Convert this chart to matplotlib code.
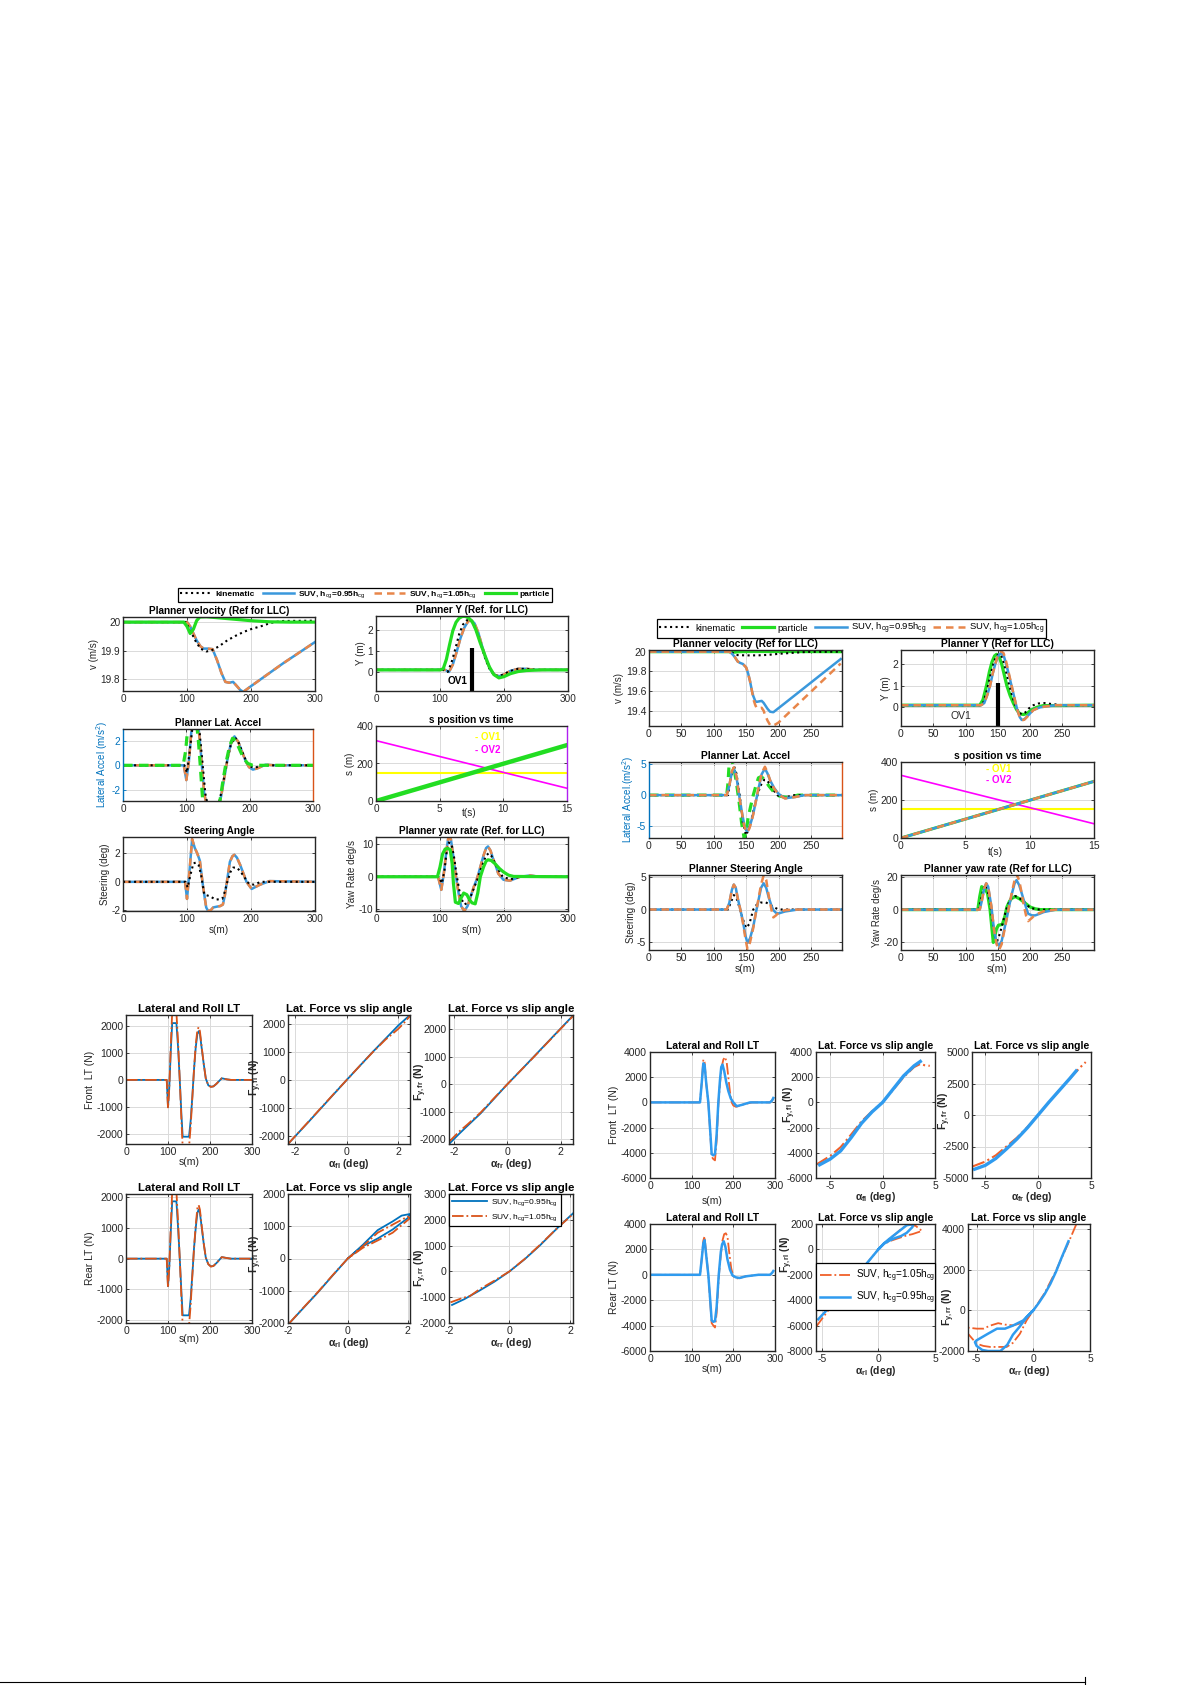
import matplotlib
matplotlib.use('Agg')
import matplotlib.pyplot as plt
from matplotlib.lines import Line2D

plt.rcParams['font.family'] = ['Liberation Sans', 'DejaVu Sans']
plt.rcParams['mathtext.fontset'] = 'custom'
plt.rcParams['mathtext.rm'] = 'Liberation Sans'
plt.rcParams['mathtext.it'] = 'Liberation Sans:italic'
plt.rcParams['mathtext.bf'] = 'Liberation Sans:bold'
plt.rcParams['axes.unicode_minus'] = False
plt.rcParams['axes.linewidth'] = 1.0

# ---------------- DATA ----------------
# ---- top-left block ----
tl_v_kin_s = [0, 98, 105, 113, 121, 130, 137, 150, 163, 176, 189, 202, 215, 228, 236, 250, 300]
tl_v_kin = [20.0, 20.0, 19.972, 19.935, 19.907, 19.897, 19.899, 19.915, 19.936, 19.952, 19.966, 19.977, 19.985, 19.995, 20.0, 20.004, 20.005]
tl_v_suv_s = [0, 100, 105, 110, 115, 121, 126, 132, 140, 147, 154, 160, 166, 172, 178, 183, 188, 194, 200, 250, 300]
tl_v_suv = [20.0, 20.0, 19.985, 19.96, 19.936, 19.915, 19.907, 19.907, 19.905, 19.866, 19.82, 19.79, 19.787, 19.79, 19.775, 19.762, 19.755, 19.765, 19.775, 19.855, 19.93]
tl_v_par_s = [0, 95, 100, 105, 110, 115, 120, 130, 150, 175, 200, 230, 260, 300]
tl_v_par = [20.0, 20.0, 19.985, 19.96, 19.975, 20.005, 20.018, 20.019, 20.015, 20.01, 20.005, 20.001, 20.0, 20.0]

tl_y_kin_s = [0, 105, 112, 118, 124, 130, 136, 142, 147, 152, 158, 165, 171, 178, 185, 192, 200, 210, 222, 235, 250, 300]
tl_y_kin = [0.1, 0.1, 0.0, 0.45, 1.1, 1.8, 2.25, 2.45, 2.45, 2.3, 1.85, 1.2, 0.6, 0.1, -0.15, -0.2, -0.1, 0.05, 0.15, 0.15, 0.1, 0.1]
tl_y_suv_s = [0, 108, 114, 120, 126, 132, 138, 144, 149, 154, 160, 166, 172, 179, 186, 193, 200, 210, 222, 235, 250, 300]
tl_y_suv = [0.1, 0.1, 0.0, 0.35, 0.95, 1.6, 2.1, 2.4, 2.45, 2.3, 1.85, 1.2, 0.6, 0.1, -0.15, -0.2, -0.12, 0.05, 0.15, 0.15, 0.1, 0.1]
tl_y_par_s = [0, 100, 105, 110, 115, 120, 125, 130, 135, 140, 145, 150, 156, 163, 170, 177, 184, 192, 200, 210, 222, 235, 260, 300]
tl_y_par = [0.1, 0.1, 0.15, 0.6, 1.3, 1.95, 2.35, 2.55, 2.63, 2.63, 2.55, 2.4, 2.0, 1.37, 0.8, 0.25, -0.12, -0.28, -0.22, -0.08, 0.02, 0.07, 0.1, 0.1]
ov1_s = [150, 150]
tl_ov1_y = [-0.9, 1.12]

tl_a_par_s = [0, 95, 99, 103, 108, 114, 119, 122, 126, 132, 140, 147, 153, 158, 163, 168, 173, 178, 184, 190, 197, 205, 215, 300]
tl_a_par = [0, 0, 1.2, 3.5, 5.0, 4.5, 2.0, 0, -3.0, -4.8, -5.0, -4.0, -2.9, -1.2, 0.3, 1.5, 2.2, 2.0, 1.3, 0.6, 0.15, 0, 0, 0]
tl_a_suv_s = [0, 96, 100, 104, 108, 113, 118, 123, 128, 134, 142, 150, 155, 160, 165, 170, 176, 182, 188, 194, 199, 205, 212, 225, 240, 300]
tl_a_suv = [0, 0, -1.2, 0.3, 2.8, 4.2, 3.8, 1.0, -2.2, -3.8, -4.2, -3.5, -2.5, -1.0, 0.5, 1.7, 2.35, 1.9, 1.1, 0.3, -0.15, -0.35, -0.25, 0.05, 0.0, 0]
tl_a_kin_s = [0, 97, 101, 105, 110, 115, 120, 125, 130, 136, 144, 151, 156, 161, 166, 171, 177, 183, 189, 195, 201, 208, 220, 300]
tl_a_kin = [0, 0, -0.6, 1.0, 3.2, 4.2, 3.2, 0.5, -2.3, -3.8, -4.0, -3.2, -2.0, -0.6, 0.8, 1.8, 2.25, 1.8, 1.0, 0.3, -0.1, -0.2, 0.0, 0]

tl_t = [0, 15]
tl_ego = [0, 298]
tl_ov1 = [150, 150]
tl_ov2 = [322, 68]

tl_d_suv_s = [0, 97, 100, 104, 108, 112, 116, 120, 125, 130, 133, 137, 141, 146, 152, 156, 159, 162, 167, 171, 174, 178, 183, 188, 193, 201, 214, 229, 300]
tl_d_suv = [0, 0, -1.2, 0.8, 3.0, 2.4, 2.0, 1.5, -0.3, -1.8, -2.05, -2.0, -1.8, -1.75, -1.7, -1.6, -1.0, -0.1, 1.4, 1.8, 1.9, 1.7, 1.2, 0.6, 0.0, -0.5, -0.2, 0.05, 0]
tl_d_kin_s = [0, 98, 101, 106, 110, 114, 118, 122, 127, 135, 145, 155, 159, 163, 168, 172, 178, 184, 190, 197, 205, 215, 300]
tl_d_kin = [0, 0, -0.4, 0.6, 1.3, 1.35, 1.2, 0.5, -0.9, -1.0, -1.25, -1.2, -0.7, 0.0, 0.7, 1.0, 1.0, 0.7, 0.3, -0.15, -0.2, 0, 0]

tl_r_suv_s = [0, 97, 102, 106, 110, 113, 117, 121, 125, 129, 133, 138, 143, 148, 153, 158, 163, 168, 172, 175, 179, 183, 187, 191, 199, 209, 225, 241, 255, 300]
tl_r_suv = [0, 0, -4, 1, 8, 12, 11.5, 6, 0, -5, -9, -10.5, -9, -6, -3, -0.5, 3, 6.5, 8.8, 9.3, 8, 5.5, 3.5, 1.0, -0.9, -1.2, 0, 0.4, 0, 0]
tl_r_kin_s = [0, 98, 103, 107, 110, 114, 118, 122, 126, 130, 134, 138, 143, 148, 153, 158, 163, 168, 172, 176, 180, 185, 190, 198, 210, 225, 300]
tl_r_kin = [0, 0, -2, 2, 7, 10.5, 10, 6, 0.5, -4, -7, -8.5, -8, -6, -3.5, -1, 2, 4.5, 6.5, 7.2, 6.5, 4.5, 2.5, 0, -0.8, 0, 0]
tl_r_par_s = [0, 96, 100, 104, 108, 112, 116, 119, 121, 124, 129, 133, 137, 142, 146, 150, 155, 159, 163, 168, 172, 175, 180, 186, 193, 199, 207, 215, 300]
tl_r_par = [0, 0, 3, 7, 8.5, 8.7, 8.3, 4, -2, -7.8, -8.2, -6.5, -5, -5.5, -7, -8, -8.3, -5, 0, 3, 4.8, 5.2, 5, 4, 2.5, 1.5, 0.5, 0.1, 0]

# ---- top-right block ----
tr_v_kin_s = [0, 125, 130, 135, 150, 170, 185, 200, 215, 230, 245, 298]
tr_v_kin = [20.0, 20.0, 19.985, 19.966, 19.962, 19.963, 19.968, 19.978, 19.985, 19.992, 19.998, 20.0]
tr_v_par_s = [0, 125, 132, 140, 160, 298]
tr_v_par = [20.0, 20.0, 19.995, 20.0, 20.002, 20.0]
tr_v_suv1_s = [0, 124, 128, 132, 137, 141, 145, 150, 153, 156, 159, 161, 164, 166, 170, 174, 177, 179, 183, 187, 192, 210, 230, 250, 268, 285, 296]
tr_v_suv1 = [20.0, 20.0, 19.98, 19.95, 19.9, 19.885, 19.875, 19.84, 19.78, 19.7, 19.6, 19.55, 19.5, 19.49, 19.495, 19.5, 19.48, 19.46, 19.42, 19.39, 19.385, 19.478, 19.582, 19.686, 19.78, 19.868, 19.925]
tr_v_suv2_s = [0, 124, 128, 132, 137, 141, 145, 150, 153, 156, 159, 161, 164, 166, 170, 174, 177, 179, 183, 187, 190, 195, 200, 220, 240, 260, 280, 296]
tr_v_suv2 = [20.0, 20.0, 19.98, 19.95, 19.9, 19.885, 19.875, 19.84, 19.78, 19.7, 19.6, 19.52, 19.46, 19.43, 19.425, 19.43, 19.4, 19.36, 19.3, 19.255, 19.245, 19.26, 19.28, 19.405, 19.53, 19.655, 19.78, 19.88]

tr_y_par_s = [0, 122, 127, 133, 137, 141, 145, 148, 152, 156, 160, 164, 169, 174, 179, 184, 190, 195, 202, 210, 220, 299]
tr_y_par = [0.1, 0.1, 0.35, 1.07, 1.65, 2.1, 2.38, 2.45, 2.35, 2.0, 1.5, 1.0, 0.55, 0.2, -0.1, -0.3, -0.33, -0.28, -0.12, 0.0, 0.08, 0.1]
tr_y_kin_s = [0, 123, 128, 134, 139, 144, 148, 152, 156, 160, 164, 168, 173, 178, 183, 187, 192, 198, 205, 213, 222, 235, 250, 299]
tr_y_kin = [0.1, 0.1, 0.25, 0.9, 1.55, 2.1, 2.38, 2.47, 2.35, 2.0, 1.5, 1.0, 0.45, 0.0, -0.25, -0.32, -0.25, -0.05, 0.1, 0.18, 0.2, 0.15, 0.1, 0.1]
tr_y_suv_s = [0, 124, 129, 134, 138, 142, 146, 150, 155, 159, 163, 168, 172, 176, 180, 184, 187, 191, 196, 205, 215, 226, 240, 299]
tr_y_suv1 = [0.1, 0.1, 0.2, 0.6, 1.0, 1.55, 2.0, 2.35, 2.52, 2.4, 2.0, 1.4, 0.9, 0.4, -0.1, -0.45, -0.58, -0.55, -0.4, -0.12, 0.0, 0.05, 0.1, 0.1]
tr_y_suv2 = [0.1, 0.1, 0.2, 0.6, 1.0, 1.55, 2.0, 2.4, 2.6, 2.5, 2.1, 1.45, 0.92, 0.4, -0.1, -0.45, -0.6, -0.57, -0.42, -0.13, 0.0, 0.05, 0.1, 0.1]
tr_ov1_y = [-0.86, 1.12]

tr_a_par_s = [0, 120, 122, 124, 127, 131, 135, 139, 143, 147, 150, 153, 157, 161, 165, 169, 173, 178, 185, 192, 200, 208, 216, 230, 298]
tr_a_par = [0, 0, 2.0, 5.5, 6.0, 4.5, 2.0, -1.0, -4.5, -7.0, -6.0, -3.7, -1.8, 0.0, 1.5, 2.8, 3.0, 2.6, 1.5, 0.6, -0.1, -0.3, -0.35, 0, 0]
tr_a_kin_s = [0, 122, 126, 131, 135, 140, 145, 150, 154, 158, 162, 166, 172, 178, 183, 188, 193, 198, 205, 212, 225, 298]
tr_a_kin = [0, 0, 2.5, 4.8, 3.5, 0.0, -4.5, -6.5, -5.5, -4.0, -2.2, -0.5, 1.5, 2.5, 2.3, 1.5, 0.7, 0.0, -0.3, -0.3, 0, 0]
tr_a_suv_s = [0, 120, 124, 128, 131, 135, 138, 143, 147, 150, 152, 155, 158, 161, 165, 169, 174, 179, 183, 187, 193, 200, 210, 226, 240, 298]
tr_a_suv1 = [0, 0, 1.5, 3.8, 4.3, 3.0, 0.8, -2.5, -4.8, -5.7, -5.8, -5.2, -4.2, -3.0, -1.0, 1.0, 3.4, 4.3, 3.5, 2.4, 1.2, 0.2, -0.5, -0.3, 0, 0]
tr_a_suv2 = [0, 0, 1.5, 3.9, 4.5, 3.1, 0.8, -2.6, -5.0, -5.9, -6.0, -5.4, -4.4, -3.1, -1.0, 1.1, 3.6, 4.6, 3.7, 2.4, 1.1, 0.1, -0.55, -0.3, 0, 0]

tr_t = [0, 15]
tr_ego = [0, 298]
tr_ov1 = [150, 150]
tr_ov2 = [330, 75]

tr_d_suv_s = [0, 120, 124, 128, 131, 134, 137, 141, 145, 149, 152, 156, 161, 165, 169, 173, 177, 181, 185, 189, 192, 196, 200, 210, 230, 298]
tr_d_suv1 = [0, 0, 1.0, 3.0, 3.8, 3.3, 1.7, 0.0, -1.8, -4.0, -5.1, -4.4, -2.6, -0.5, 1.4, 3.3, 4.0, 3.3, 1.8, 0.6, -0.1, -0.5, -0.6, -0.3, 0, 0]
tr_d_suv2 = [0, 0, 1.0, 3.0, 3.8, 3.3, 1.7, 0.0, -2.0, -4.5, -6.0, -5.0, -2.8, -0.5, 1.6, 3.8, 5.2, 4.5, 2.0, 0.0, -1.2, -0.9, -0.5, -0.1, 0, 0]
tr_d_kin_s = [0, 122, 126, 131, 135, 140, 145, 150, 155, 161, 166, 172, 180, 186, 192, 198, 205, 298]
tr_d_kin = [0, 0, 1.0, 2.2, 1.8, 0.2, -1.5, -2.8, -2.2, 0.0, 0.7, 1.05, 1.1, 0.8, 0.4, 0.1, 0, 0]

tr_r_par_s = [0, 119, 122, 125, 128, 131, 134, 138, 141, 143, 146, 148, 151, 157, 161, 164, 168, 171, 177, 184, 190, 200, 208, 216, 298]
tr_r_par = [0, 0, 8, 14, 13, 12, 10, 0, -12, -20, -15, -11.6, -9.5, -9, -4, 1.6, 5, 6.7, 8, 6.5, 4.7, 1.6, 0.5, 0, 0]
tr_r_kin_s = [0, 120, 124, 128, 131, 134, 138, 142, 146, 149, 152, 155, 159, 163, 168, 172, 176, 180, 185, 190, 200, 215, 298]
tr_r_kin = [0, 0, 6, 13, 15, 12, 4, -8, -17, -19, -16, -12, -6, 0, 5, 7.8, 8.2, 8, 6.5, 5, 1, 0, 0]
tr_r_suv_s = [0, 122, 125, 129, 132, 135, 140, 144, 148, 152, 156, 160, 164, 168, 172, 176, 179, 183, 187, 190, 194, 197, 203, 208, 215, 221, 240, 298]
tr_r_suv1 = [0, 0, 5, 13, 16, 14, 2, -12, -20, -22, -19, -12, -5, 3, 10, 16, 18, 15, 10, 6, 1, -2.5, -3.5, -3.5, -2.5, -1.5, 0, 0]
tr_r_suv2 = [0, 0, 5, 13, 16, 14, 2, -12, -21, -24.5, -21, -13, -5, 3, 11, 18, 21.5, 18, 10, 3, -4, -7, -5, -3, -2, -1, 0, 0]

# ---- bottom-left block ----
bl_s = [0, 97, 100, 103, 107, 110, 115, 120, 124, 128, 132, 135, 140, 145, 150, 154, 158, 162, 166, 170, 173, 176, 180, 185, 190, 196, 202, 208, 215, 228, 240, 250, 300]
bl_f1 = [0, 0, -1000, -300, 1200, 2100, 2100, 2100, 1200, 0, -1300, -2100, -2100, -2100, -2100, -1500, -600, 400, 1200, 1700, 1800, 1700, 1200, 600, 50, -200, -250, -240, -150, 60, 20, 0, 0]
bl_f2 = [0, 0, -1050, -300, 1400, 2500, 2600, 2500, 1400, 0, -1500, -2500, -2600, -2600, -2500, -1700, -650, 400, 1300, 1850, 1950, 1800, 1250, 600, 50, -200, -260, -240, -150, 60, 20, 0, 0]
bl_r1 = [0, 0, -900, -300, 1000, 1870, 1870, 1870, 1000, 0, -1100, -1850, -1850, -1850, -1850, -1300, -500, 350, 1000, 1500, 1600, 1500, 1050, 500, 30, -180, -250, -240, -150, 50, 20, 0, 0]
bl_r2 = [0, 0, -950, -300, 1200, 2200, 2300, 2200, 1200, 0, -1300, -2200, -2300, -2300, -2200, -1500, -550, 350, 1100, 1650, 1750, 1600, 1100, 500, 30, -180, -260, -240, -150, 50, 20, 0, 0]

bl_afl1 = [-2.27, -1.5, -1.0, -0.5, 0.0, 0.5, 1.0, 1.5, 2.0, 2.45]
bl_ffl1 = [-2300, -1530, -1020, -510, 0, 500, 1000, 1480, 1960, 2335]
bl_afl2 = [-2.27, -1.5, -1.0, -0.5, 0.0, 0.5, 1.0, 1.5, 1.8, 2.0, 2.2, 2.45]
bl_ffl2 = [-2300, -1520, -1010, -500, 0, 500, 990, 1450, 1680, 1840, 2030, 2300]
bl_afr1 = [-2.19, -1.8, -1.5, -1.0, -0.5, 0.0, 0.5, 1.0, 1.5, 2.0, 2.46]
bl_ffr1 = [-2180, -1800, -1520, -1060, -530, 0, 500, 1010, 1520, 2030, 2500]
bl_afr2 = [-2.19, -1.8, -1.5, -1.0, -0.5, 0.0, 0.5, 1.0, 1.5, 2.0, 2.46]
bl_ffr2 = [-2100, -1720, -1470, -1030, -510, 0, 500, 1000, 1510, 2020, 2480]
bl_arl1 = [-1.95, -1.5, -1.0, -0.5, 0.0, 0.5, 1.0, 1.5, 2.0, 2.08, 1.8, 1.5, 1.0, 0.5, 0.0]
bl_frl1 = [-2000, -1550, -1050, -520, 0, 380, 620, 900, 1250, 1380, 1330, 1150, 880, 420, 0]
bl_arl2 = [-1.95, -1.5, -1.0, -0.5, 0.0, 0.5, 1.0, 1.5, 2.08, 2.0, 1.5, 1.0, 0.5, 0.0]
bl_frl2 = [-2000, -1540, -1040, -510, 0, 330, 560, 800, 1250, 1300, 1050, 800, 380, 0]
bl_arr1 = [-1.9, -1.5, -1.0, -0.5, 0.0, 0.5, 1.0, 1.6, 2.1]
bl_frr1 = [-1300, -1080, -750, -400, 0, 470, 1000, 1700, 2250]
bl_arr2 = [-1.95, -1.6, -1.3, -1.0, -0.5, 0.0, 0.5, 1.0, 1.6, 2.1]
bl_frr2 = [-1200, -1050, -950, -700, -360, 0, 480, 1020, 1700, 2220]

# ---- bottom-right block ----
br_f_s1 = [0, 120, 124, 128, 131, 135, 140, 145, 148, 152, 156, 160, 164, 168, 171, 174, 178, 183, 188, 194, 200, 208, 220, 240, 288, 293, 296]
br_f1 = [0, 0, 1500, 3100, 3000, 1500, 0, -2500, -4100, -4200, -4100, -2500, 0, 1800, 2800, 3000, 2500, 1600, 900, 300, 0, -300, -200, 0, 0, 150, 350]
br_f_s2 = [0, 120, 124, 128, 131, 135, 140, 145, 148, 152, 156, 160, 164, 168, 172, 176, 180, 184, 188, 192, 196, 200, 206, 212, 225, 245, 288, 293, 296]
br_f2 = [0, 0, 1500, 3400, 3200, 1500, 0, -2700, -4300, -4500, -4600, -3000, -200, 1500, 2800, 3400, 3600, 3200, 2000, 800, 0, -250, -350, -300, -150, 0, 0, 150, 350]
br_r_s1 = [0, 120, 124, 128, 131, 135, 140, 145, 148, 152, 156, 160, 165, 170, 173, 177, 181, 186, 192, 198, 206, 215, 230, 260, 288, 293, 296]
br_r1 = [0, 0, 1200, 2500, 2720, 1500, 0, -2200, -3600, -3700, -3650, -2500, 0, 1800, 2400, 2640, 2200, 1200, 400, -50, -200, -250, -120, 0, 0, 150, 300]
br_r_s2 = [0, 120, 124, 128, 131, 135, 140, 145, 148, 152, 156, 160, 165, 170, 174, 178, 182, 186, 190, 195, 200, 206, 215, 230, 260, 288, 293, 296]
br_r2 = [0, 0, 1200, 2700, 3030, 1600, 0, -2400, -3800, -4000, -4150, -3000, -200, 1600, 2700, 3200, 3270, 3000, 1800, 500, -100, -300, -250, -120, 0, 0, 150, 300]

br_afl1 = [-6.0, -5.0, -4.0, -3.0, -2.0, -1.0, 0.0, 1.0, 2.0, 3.0, 3.6]
br_ffl1 = [-4950, -4500, -3850, -2800, -1650, -750, 0, 1050, 2100, 2900, 3250]
br_afl2 = [-6.35, -5.0, -4.0, -3.0, -2.0, -1.0, 0.0, 1.0, 2.0, 3.0, 3.6, 4.0, 4.5]
br_ffl2 = [-4950, -4250, -3550, -2550, -1500, -700, 0, 1000, 2000, 2800, 3050, 2950, 2900]
br_afr1 = [-6.0, -5.0, -4.0, -3.0, -2.0, -1.0, 0.0, 1.0, 2.0, 3.0, 3.6]
br_ffr1 = [-4300, -4000, -3450, -2700, -1900, -1000, 0, 1000, 1950, 2900, 3500]
br_afr2 = [-6.25, -5.0, -4.0, -3.0, -2.0, -1.0, 0.0, 1.0, 2.0, 3.0, 4.0, 4.5]
br_ffr2 = [-4100, -3700, -3200, -2500, -1800, -950, 0, 1000, 1950, 2900, 3800, 4200]
br_arl1 = [-5.3, -4.0, -3.0, -2.0, -1.0, 0.0, 0.5, 1.0, 1.5, 2.0, 2.5, 3.0, 3.1, 2.5, 2.0, 1.5, 1.0, 0.5, 0.0]
br_frl1 = [-5500, -4250, -3200, -2150, -1080, 0, 450, 700, 900, 1050, 1300, 1750, 2000, 1900, 1550, 1200, 850, 480, 0]
br_arl2 = [-5.5, -4.0, -3.0, -2.0, -1.0, 0.0, 0.5, 1.0, 1.5, 2.0, 2.5, 3.0, 3.5, 3.85, 3.3, 2.6, 2.0, 1.5, 1.0, 0.5, 0.0]
br_frl2 = [-6100, -4300, -3200, -2150, -1080, 0, 420, 650, 800, 950, 1100, 1200, 1350, 1450, 1850, 1950, 1600, 1200, 850, 450, 0]
br_arr1 = [3.1, 2.5, 2.0, 1.5, 1.0, 0.5, 0.0, -0.9, -1.8, -2.5, -3.2, -4.0, -5.0, -5.15, -5.0, -4.5, -4.0, -3.5, -2.9, -2.3, -1.8, -1.2, -0.6, 0.0]
br_frr1 = [3400, 2600, 1900, 1300, 800, 380, 0, -500, -750, -900, -900, -1150, -1475, -1560, -1750, -1950, -2000, -2000, -2000, -1700, -1200, -800, -350, 0]
br_arr2 = [3.8, 3.0, 2.0, 1.0, 0.0, -0.74, -1.2, -1.77, -2.5, -3.1, -3.8, -4.4, -5.0, -5.76, -5.76, -5.0, -4.4, -3.8, -3.0, -2.35, -1.8, -1.18, -0.6, 0.0]
br_frr2 = [4250, 3200, 1950, 850, 0, -490, -650, -740, -700, -630, -750, -900, -900, -850, -1150, -1640, -1750, -1800, -1800, -1800, -1600, -1150, -500, 0]

# tick values
s_ticks_300 = [0, 100, 200, 300]
s_ticks_250 = [0, 50, 100, 150, 200, 250]
t_ticks = [0, 5, 10, 15]

lab_kin = 'kinematic'
lab_par = 'particle'
lab_suv1 = r'SUV, h$_{\mathrm{cg}}$=0.95h$_{\mathrm{cg}}$'
lab_suv2 = r'SUV, h$_{\mathrm{cg}}$=1.05h$_{\mathrm{cg}}$'

# ---------------- STYLE ----------------
K = 'black'
GREEN = '#22DD22'
BLUE_T = '#3A98DC'
ORANGE_T = '#E8864A'
BLUE_BL = '#0072BD'
ORANGE_BL = '#D95319'
BLUE_BR = '#2F9BEF'
ORANGE_BR = '#F0602A'
MAT_BLUE = '#0072BD'
MAT_ORANGE = '#D95319'
TXT = '#262626'

W, H = 1192, 1685
fig = plt.figure(figsize=(W / 100, H / 100), dpi=100)
fig.patch.set_facecolor('white')


def mkax(rect):
    l, t, r, b = rect
    return fig.add_axes([l / W, 1 - b / H, (r - l) / W, (b - t) / H])


def fmt(v):
    return ('%g' % v)


def style(ax, xlim, ylim, xt, yt, title, tfs, lfs, xlabel=None, ylabel=None,
          xlpad=1.0, ylfs=7.0, xlfs=7.2, bold_labels=False, tpad=2.5, ylcoords=None):
    ax.set_xlim(xlim)
    ax.set_ylim(ylim)
    ax.set_xticks(xt)
    ax.set_xticklabels([fmt(v) for v in xt])
    ax.set_yticks(yt)
    ax.set_yticklabels([fmt(v) for v in yt])
    ax.grid(True, color='#DADADA', lw=0.7)
    ax.set_axisbelow(True)
    ax.tick_params(direction='in', length=2.5, width=0.6, labelsize=lfs, pad=2,
                   top=True, right=True, colors=TXT)
    for sp in ax.spines.values():
        sp.set_color('#262626')
        sp.set_linewidth(1.0)
    if title:
        ax.set_title(title, fontsize=tfs, fontweight='bold', pad=tpad, color='black')
    w = 'bold' if bold_labels else 'normal'
    if xlabel:
        ax.set_xlabel(xlabel, fontsize=xlfs, labelpad=xlpad, color=TXT, fontweight=w)
    if ylabel:
        ax.set_ylabel(ylabel, fontsize=ylfs, labelpad=1.0, color=TXT, fontweight=w)
        if ylcoords is not None:
            ax.yaxis.set_label_coords(ylcoords[0], ylcoords[1])


def yyaxis_style(ax):
    ax.spines['left'].set_color(MAT_BLUE)
    ax.spines['right'].set_color(MAT_ORANGE)
    ax.tick_params(axis='y', colors=MAT_BLUE)
    ax.yaxis.label.set_color(MAT_BLUE)


# ================= TOP-LEFT =================
lw_k, lw_s, lw_g = 1.5, 1.8, 2.3
ax = mkax((123, 617, 315, 691))
ax.plot(tl_v_suv_s, tl_v_suv, color=BLUE_T, lw=lw_s)
ax.plot(tl_v_suv_s, tl_v_suv, color=ORANGE_T, lw=lw_s, ls=(0, (3, 2)))
ax.plot(tl_v_kin_s, tl_v_kin, color=K, lw=lw_k, ls=':')
ax.plot(tl_v_par_s, tl_v_par, color=GREEN, lw=lw_g)
style(ax, (0, 300), (19.758, 20.018), s_ticks_300, [19.8, 19.9, 20.0],
      'Planner velocity (Ref for LLC)', 7.2, 7.2, ylabel='v (m/s)')

ax = mkax((376, 616, 568, 691))
ax.plot(tl_y_suv_s, tl_y_suv, color=BLUE_T, lw=lw_s)
ax.plot(tl_y_suv_s, tl_y_suv, color=ORANGE_T, lw=lw_s, ls=(0, (3, 2)))
ax.plot(tl_y_kin_s, tl_y_kin, color=K, lw=lw_k, ls=':')
ax.plot(tl_y_par_s, tl_y_par, color=GREEN, lw=lw_g)
ax.plot(ov1_s, tl_ov1_y, color=K, lw=3.0, solid_capstyle='butt')
ax.text(128, -0.45, 'OV1', fontsize=7.2, fontweight='bold', ha='center', va='center')
style(ax, (0, 300), (-0.9, 2.65), s_ticks_300, [0, 1, 2],
      'Planner Y (Ref. for LLC)', 7.2, 7.2, ylabel='Y (m)')

ax = mkax((123, 729, 313, 801))
ax.plot(tl_a_suv_s, tl_a_suv, color=BLUE_T, lw=lw_s)
ax.plot(tl_a_suv_s, tl_a_suv, color=ORANGE_T, lw=lw_s, ls=(0, (3, 2)))
ax.plot(tl_a_kin_s, tl_a_kin, color=K, lw=lw_k, ls=':')
ax.plot(tl_a_par_s, tl_a_par, color=GREEN, lw=lw_g, ls=(0, (3, 2)))
style(ax, (0, 300), (-2.9, 2.95), s_ticks_300, [-2, 0, 2],
      'Planner Lat. Accel', 7.2, 7.2, ylabel='Lateral Accel (m/s$^2$)')
ax.tick_params(right=False)
yyaxis_style(ax)

ax = mkax((376, 726, 567, 801))
ax.plot(tl_t, tl_ov1, color='#FFFF00', lw=1.5)
ax.plot(tl_t, tl_ov2, color='#FF00FF', lw=1.2)
ax.plot(tl_t, tl_ego, color=GREEN, lw=3.2)
style(ax, (0, 15), (0, 400), t_ticks, [0, 200, 400],
      's position vs time', 7.2, 7.2, ylabel='s (m)')
ax.spines['right'].set_color('#B020F0')
ax.text(0.49, -0.16, 't(s)', transform=ax.transAxes, fontsize=7.2, ha='center', va='center', color=TXT)
ax.text(7.8, 340, '- OV1', fontsize=7, fontweight='bold', color='#FFFF00', va='center')
ax.text(7.8, 272, '- OV2', fontsize=7, fontweight='bold', color='#FF00FF', va='center')

ax = mkax((123, 837, 315, 911))
ax.plot(tl_d_suv_s, tl_d_suv, color=BLUE_T, lw=lw_s)
ax.plot(tl_d_suv_s, tl_d_suv, color=ORANGE_T, lw=lw_s, ls=(0, (3, 2)))
ax.plot(tl_d_kin_s, tl_d_kin, color=K, lw=lw_k, ls=':')
style(ax, (0, 300), (-2.05, 3.15), s_ticks_300, [-2, 0, 2],
      'Steering Angle', 7.2, 7.2, xlabel='s(m)', ylabel='Steering (deg)')

ax = mkax((376, 837, 568, 911))
ax.plot(tl_r_suv_s, tl_r_suv, color=BLUE_T, lw=lw_s)
ax.plot(tl_r_suv_s, tl_r_suv, color=ORANGE_T, lw=lw_s, ls=(0, (3, 2)))
ax.plot(tl_r_kin_s, tl_r_kin, color=K, lw=lw_k, ls=':')
ax.plot(tl_r_par_s, tl_r_par, color=GREEN, lw=lw_g)
style(ax, (0, 300), (-10.5, 12.2), s_ticks_300, [-10, 0, 10],
      'Planner yaw rate (Ref. for LLC)', 7.2, 7.2, xlabel='s(m)', ylabel='Yaw Rate deg/s')

h_tl = [Line2D([], [], color=K, lw=1.5, ls=':'),
        Line2D([], [], color=BLUE_T, lw=1.8),
        Line2D([], [], color=ORANGE_T, lw=1.8, ls=(0, (3, 2))),
        Line2D([], [], color=GREEN, lw=2.3)]
leg = fig.legend(h_tl, [lab_kin, lab_suv1, lab_suv2, lab_par], loc='center',
                 bbox_to_anchor=(365 / W, 1 - 595 / H),
                 ncol=4, prop={'size': 6.0, 'weight': 'bold'}, frameon=True, fancybox=False,
                 edgecolor='black', handlelength=3.8, borderpad=0.25, handletextpad=0.4,
                 columnspacing=1.0, framealpha=1)
leg.get_frame().set_linewidth(0.9)

# ================= TOP-RIGHT =================
ax = mkax((649, 650, 842, 726))
ax.plot(tr_v_par_s, tr_v_par, color=GREEN, lw=lw_g)
ax.plot(tr_v_kin_s, tr_v_kin, color=K, lw=lw_k, ls=':')
ax.plot(tr_v_suv1_s, tr_v_suv1, color=BLUE_T, lw=lw_s)
ax.plot(tr_v_suv2_s, tr_v_suv2, color=ORANGE_T, lw=lw_s, ls=(0, (3, 2)))
style(ax, (0, 298), (19.245, 20.017), s_ticks_250, [19.4, 19.6, 19.8, 20.0],
      'Planner velocity (Ref for LLC)', 7.4, 7.5, ylabel='v (m/s)', tpad=2.0)

ax = mkax((901, 650, 1094, 726))
ax.plot(tr_y_par_s, tr_y_par, color=GREEN, lw=lw_g)
ax.plot(tr_y_kin_s, tr_y_kin, color=K, lw=lw_k, ls=':')
ax.plot(tr_y_suv_s, tr_y_suv1, color=BLUE_T, lw=lw_s)
ax.plot(tr_y_suv_s, tr_y_suv2, color=ORANGE_T, lw=lw_s, ls=(0, (3, 2)))
ax.plot(ov1_s, tr_ov1_y, color=K, lw=3.0, solid_capstyle='butt')
ax.text(93, -0.38, 'OV1', fontsize=7.5, ha='center', va='center', color=TXT)
style(ax, (0, 299), (-0.86, 2.65), s_ticks_250, [0, 1, 2],
      'Planner Y (Ref for LLC)', 7.4, 7.5, ylabel='Y (m)', tpad=2.0)

ax = mkax((649, 762, 842, 838))
ax.plot(tr_a_par_s, tr_a_par, color=GREEN, lw=lw_g, ls=(0, (3, 2)))
ax.plot(tr_a_kin_s, tr_a_kin, color=K, lw=lw_k, ls=':')
ax.plot(tr_a_suv_s, tr_a_suv1, color=BLUE_T, lw=lw_s)
ax.plot(tr_a_suv_s, tr_a_suv2, color=ORANGE_T, lw=lw_s, ls=(0, (3, 2)))
style(ax, (0, 298), (-6.95, 5.37), s_ticks_250, [-5, 0, 5],
      'Planner Lat. Accel', 7.4, 7.5, ylabel='Lateral Accel.(m/s$^2$)')
ax.tick_params(right=False)
yyaxis_style(ax)

ax = mkax((901, 762, 1094, 838))
ax.plot(tr_t, tr_ov1, color='#FFFF00', lw=1.5)
ax.plot(tr_t, tr_ov2, color='#FF00FF', lw=1.2)
ax.plot(tr_t, tr_ego, color=GREEN, lw=2.2)
ax.plot(tr_t, tr_ego, color=BLUE_T, lw=1.8)
ax.plot(tr_t, tr_ego, color=ORANGE_T, lw=1.8, ls=(0, (3, 2)))
style(ax, (0, 15), (0, 400), t_ticks, [0, 200, 400],
      's position vs time', 7.4, 7.5, ylabel='s (m)')
ax.text(0.49, -0.18, 't(s)', transform=ax.transAxes, fontsize=7.5, ha='center', va='center', color=TXT)
ax.text(6.6, 362, '- OV1', fontsize=7, fontweight='bold', color='#FFFF00', va='center')
ax.text(6.6, 305, '- OV2', fontsize=7, fontweight='bold', color='#FF00FF', va='center')

ax = mkax((649, 875, 842, 950))
ax.plot(tr_d_kin_s, tr_d_kin, color=K, lw=lw_k, ls=':')
ax.plot(tr_d_suv_s, tr_d_suv1, color=BLUE_T, lw=lw_s)
ax.plot(tr_d_suv_s, tr_d_suv2, color=ORANGE_T, lw=lw_s, ls=(0, (3, 2)))
style(ax, (0, 298), (-6.17, 5.26), s_ticks_250, [-5, 0, 5],
      'Planner Steering Angle', 7.4, 7.5, xlabel='s(m)', ylabel='Steering (deg)', xlfs=7.5)

ax = mkax((901, 875, 1094, 950))
ax.plot(tr_r_par_s, tr_r_par, color=GREEN, lw=lw_g)
ax.plot(tr_r_kin_s, tr_r_kin, color=K, lw=lw_k, ls=':')
ax.plot(tr_r_suv_s, tr_r_suv1, color=BLUE_T, lw=lw_s)
ax.plot(tr_r_suv_s, tr_r_suv2, color=ORANGE_T, lw=lw_s, ls=(0, (3, 2)))
style(ax, (0, 299), (-24.6, 21.1), s_ticks_250, [-20, 0, 20],
      'Planner yaw rate (Ref for LLC)', 7.4, 7.5, xlabel='s(m)', ylabel='Yaw Rate deg/s', xlfs=7.5)

h_tr = [Line2D([], [], color=K, lw=1.5, ls=':'),
        Line2D([], [], color=GREEN, lw=2.3),
        Line2D([], [], color=BLUE_T, lw=1.8),
        Line2D([], [], color=ORANGE_T, lw=1.8, ls=(0, (3, 2)))]
leg = fig.legend(h_tr, [lab_kin, lab_par, lab_suv1, lab_suv2], loc='center',
                 bbox_to_anchor=(851.5 / W, 1 - 628.5 / H),
                 ncol=4, prop={'size': 6.8}, frameon=True, fancybox=False,
                 edgecolor='black', handlelength=3.4, borderpad=0.25, handletextpad=0.4,
                 columnspacing=0.7, framealpha=1)
leg.get_frame().set_linewidth(0.9)

# ================= BOTTOM-LEFT =================
lb = 1.3
lt_ticks = [-2000, -1000, 0, 1000, 2000]
ax = mkax((126, 1015, 252, 1144))
ax.plot(bl_s, bl_f1, color=BLUE_BL, lw=lb)
ax.plot(bl_s, bl_f2, color=ORANGE_BL, lw=lb, ls='-.')
style(ax, (0, 300), (-2370, 2400), s_ticks_300, lt_ticks, 'Lateral and Roll LT', 8.2, 7.6,
      xlabel='s(m)', ylabel='Front  LT (N)', xlfs=7.6, ylfs=7.4, xlpad=0.5)

ax = mkax((288, 1015, 410, 1144))
ax.plot(bl_afl1, bl_ffl1, color=BLUE_BL, lw=lb)
ax.plot(bl_afl2, bl_ffl2, color=ORANGE_BL, lw=lb, ls='-.')
style(ax, (-2.27, 2.45), (-2300, 2335), [-2, 0, 2], lt_ticks, 'Lat. Force vs slip angle', 8.2, 7.6,
      xlabel=r'$\mathbf{\alpha_{fl}}$ (deg)', ylabel=r'$\mathbf{F_{y,fl}}$ (N)', xlfs=7.6, ylfs=7.6,
      xlpad=0.5, bold_labels=True, ylcoords=(-0.197, 0.52))

ax = mkax((449, 1015, 573, 1144))
ax.plot(bl_afr1, bl_ffr1, color=BLUE_BL, lw=lb)
ax.plot(bl_afr2, bl_ffr2, color=ORANGE_BL, lw=lb, ls='-.')
style(ax, (-2.19, 2.46), (-2180, 2520), [-2, 0, 2], lt_ticks, 'Lat. Force vs slip angle', 8.2, 7.6,
      xlabel=r'$\mathbf{\alpha_{fr}}$ (deg)', ylabel=r'$\mathbf{F_{y,fr}}$ (N)', xlfs=7.6, ylfs=7.6,
      xlpad=0.5, bold_labels=True, ylcoords=(-0.16, 0.48))

ax = mkax((126, 1194, 252, 1323))
ax.plot(bl_s, bl_r1, color=BLUE_BL, lw=lb)
ax.plot(bl_s, bl_r2, color=ORANGE_BL, lw=lb, ls='-.')
style(ax, (0, 300), (-2100, 2110), s_ticks_300, lt_ticks, 'Lateral and Roll LT', 8.2, 7.6,
      xlabel='s(m)', ylabel='Rear LT (N)', xlfs=7.6, ylfs=7.4, xlpad=-1.0)

ax = mkax((288, 1194, 410, 1323))
ax.plot(bl_arl1, bl_frl1, color=BLUE_BL, lw=lb)
ax.plot(bl_arl2, bl_frl2, color=ORANGE_BL, lw=lb, ls='-.')
style(ax, (-2.0, 2.08), (-2000, 2000), [-2, 0, 2], [-2000, -1000, 0, 1000, 2000],
      'Lat. Force vs slip angle', 8.2, 7.6,
      xlabel=r'$\mathbf{\alpha_{rl}}$ (deg)', ylabel=r'$\mathbf{F_{y,rl}}$ (N)', xlfs=7.6, ylfs=7.6,
      xlpad=0.5, bold_labels=True, ylcoords=(-0.197, 0.535))

ax = mkax((449, 1194, 573, 1323))
ax.plot(bl_arr1, bl_frr1, color=BLUE_BL, lw=lb, label=lab_suv1)
ax.plot(bl_arr2, bl_frr2, color=ORANGE_BL, lw=lb, ls='-.', label=lab_suv2)
style(ax, (-1.98, 2.1), (-2000, 3000), [-2, 0, 2], [-2000, -1000, 0, 1000, 2000, 3000],
      'Lat. Force vs slip angle', 8.2, 7.6,
      xlabel=r'$\mathbf{\alpha_{rr}}$ (deg)', ylabel=r'$\mathbf{F_{y,rr}}$ (N)', xlfs=7.6, ylfs=7.6,
      xlpad=0.5, bold_labels=True, ylcoords=(-0.16, 0.43))
leg = ax.legend(loc='upper left', bbox_to_anchor=(0, 1), borderaxespad=0, fontsize=6.0,
                handlelength=4.2, frameon=True, fancybox=False, edgecolor='black',
                borderpad=0.35, labelspacing=0.5, handletextpad=0.5, framealpha=1)
leg.get_frame().set_linewidth(0.9)

# ================= BOTTOM-RIGHT =================
lbr = 1.8
br_lt_ticks = [-6000, -4000, -2000, 0, 2000, 4000]
ax = mkax((650, 1052, 775, 1178))
ax.plot(br_f_s2, br_f2, color=ORANGE_BR, lw=1.3, ls='-.')
ax.plot(br_f_s1, br_f1, color=BLUE_BR, lw=lbr)
style(ax, (0, 300), (-6000, 4000), s_ticks_300, br_lt_ticks, 'Lateral and Roll LT', 7.5, 7.5,
      xlabel='s(m)', ylabel='Front  LT (N)', xlfs=7.5, ylfs=7.5, xlpad=3.5, tpad=2.0)

ax = mkax((816, 1052, 935, 1178))
ax.plot(br_afl2, br_ffl2, color=ORANGE_BR, lw=1.5, ls='-.')
ax.plot(br_afl1, br_ffl1, color=BLUE_BR, lw=2.4)
style(ax, (-6.35, 5.0), (-6000, 4000), [-5, 0, 5], br_lt_ticks, 'Lat. Force vs slip angle', 7.5, 7.5,
      xlabel=r'$\mathbf{\alpha_{fl}}$ (deg)', ylabel=r'$\mathbf{F_{y,fl}}$ (N)', xlfs=7.5, ylfs=7.5,
      xlpad=-0.5, bold_labels=True, tpad=2.0, ylcoords=(-0.153, 0.58))

ax = mkax((972, 1052, 1091, 1178))
ax.plot(br_afr2, br_ffr2, color=ORANGE_BR, lw=1.5, ls='-.')
ax.plot(br_afr1, br_ffr1, color=BLUE_BR, lw=2.4)
style(ax, (-6.25, 5.0), (-5000, 5000), [-5, 0, 5], [-5000, -2500, 0, 2500, 5000],
      'Lat. Force vs slip angle', 7.5, 7.5,
      xlabel=r'$\mathbf{\alpha_{fr}}$ (deg)', ylabel=r'$\mathbf{F_{y,fr}}$ (N)', xlfs=7.5, ylfs=7.5,
      xlpad=-0.5, bold_labels=True, tpad=2.0, ylcoords=(-0.162, 0.53))

ax = mkax((650, 1224, 775, 1351))
ax.plot(br_r_s2, br_r2, color=ORANGE_BR, lw=1.3, ls='-.')
ax.plot(br_r_s1, br_r1, color=BLUE_BR, lw=lbr)
style(ax, (0, 300), (-6000, 4000), s_ticks_300, br_lt_ticks, 'Lateral and Roll LT', 7.5, 7.5,
      xlabel='s(m)', ylabel='Rear LT (N)', xlfs=7.5, ylfs=7.5, xlpad=0.0, tpad=2.0)

ax = mkax((816, 1224, 935, 1351))
ax.plot(br_arl2, br_frl2, color=ORANGE_BR, lw=1.3, ls='-.', label=lab_suv2)
ax.plot(br_arl1, br_frl1, color=BLUE_BR, lw=lbr, label=lab_suv1)
style(ax, (-5.5, 5.0), (-8000, 2000), [-5, 0, 5], [-8000, -6000, -4000, -2000, 0, 2000],
      'Lat. Force vs slip angle', 7.5, 7.5,
      xlabel=r'$\mathbf{\alpha_{rl}}$ (deg)', ylabel=r'$\mathbf{F_{y,rl}}$ (N)', xlfs=7.5, ylfs=7.5,
      xlpad=0.5, bold_labels=True, tpad=2.0, ylcoords=(-0.176, 0.76))
leg = ax.legend(loc='center', bbox_to_anchor=(0, 0.368, 1, 0.275), mode='expand',
                fontsize=7.2, handlelength=3.0, frameon=True, fancybox=False, edgecolor='black',
                borderpad=0.4, labelspacing=0.6, handletextpad=0.6, framealpha=1, borderaxespad=0)
leg.get_frame().set_linewidth(0.9)

ax = mkax((968, 1224, 1090, 1351))
ax.plot(br_arr2, br_frr2, color=ORANGE_BR, lw=1.3, ls='-.')
ax.plot(br_arr1, br_frr1, color=BLUE_BR, lw=lbr)
style(ax, (-5.76, 5.0), (-2000, 4250), [-5, 0, 5], [-2000, 0, 2000, 4000],
      'Lat. Force vs slip angle', 7.5, 7.5,
      xlabel=r'$\mathbf{\alpha_{rr}}$ (deg)', ylabel=r'$\mathbf{F_{y,rr}}$ (N)', xlfs=7.5, ylfs=7.5,
      xlpad=0.5, bold_labels=True, tpad=2.0, ylcoords=(-0.09, 0.35))

# page bottom line
fig.add_artist(Line2D([0, 1085 / W], [1 - 1682 / H, 1 - 1682 / H], color='black', lw=0.8))
fig.add_artist(Line2D([1085 / W, 1085 / W], [1 - 1685 / H, 1 - 1677 / H], color='black', lw=0.8))

fig.savefig('out.png', dpi=100, facecolor='white')
